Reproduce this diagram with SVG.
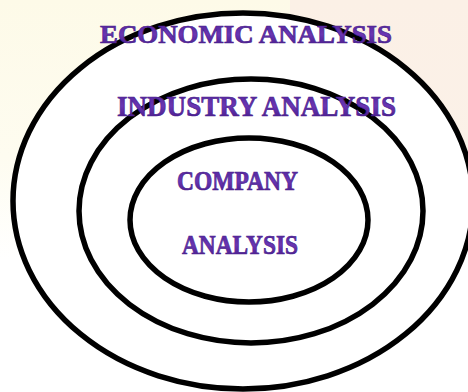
<svg xmlns="http://www.w3.org/2000/svg" width="468" height="392" viewBox="0 0 468 392">
  <defs>
    <linearGradient id="txt" x1="0" y1="0" x2="0" y2="1">
      <stop offset="0" stop-color="#4e2194"/>
      <stop offset="0.5" stop-color="#6a36b4"/>
      <stop offset="1" stop-color="#3f1680"/>
    </linearGradient>
    <linearGradient id="peach" x1="0" y1="0" x2="0" y2="1">
      <stop offset="0" stop-color="#fbf0e6"/>
      <stop offset="0.7" stop-color="#fbf1e8"/>
      <stop offset="1" stop-color="#ffffff"/>
    </linearGradient>
    <linearGradient id="cream" x1="0" y1="0" x2="0" y2="1">
      <stop offset="0" stop-color="#fdfae8"/>
      <stop offset="0.6" stop-color="#fefcf0"/>
      <stop offset="1" stop-color="#ffffff"/>
    </linearGradient>
    <style>
      .ring { fill: none; stroke: #000; stroke-width: 5.5; }
      .lbl { font-family: "Liberation Serif", "Times New Roman", serif; font-weight: bold; fill: url(#txt); stroke: #4a1f8e; stroke-width: 0.7; }
    </style>
  </defs>
  <rect x="0" y="0" width="468" height="392" fill="#ffffff"/>
  <rect x="0" y="0" width="300" height="260" fill="url(#cream)"/>
  <rect x="290" y="0" width="178" height="230" fill="url(#peach)"/>
  <ellipse cx="243" cy="201" rx="230" ry="188" fill="#ffffff"/>

  <g id="economic">
    <ellipse class="ring" cx="243" cy="201" rx="230" ry="188"/>
  </g>
  <g id="industry">
    <ellipse class="ring" cx="251" cy="211" rx="172" ry="132"/>
  </g>
  <g id="company">
    <ellipse class="ring" cx="249" cy="220" rx="119" ry="82"/>
  </g>

  <g id="labels">
    <text class="lbl" x="100" y="43" font-size="26" textLength="292" lengthAdjust="spacingAndGlyphs">ECONOMIC ANALYSIS</text>
    <text class="lbl" x="117" y="116" font-size="29" textLength="279" lengthAdjust="spacingAndGlyphs">INDUSTRY ANALYSIS</text>
    <text class="lbl" x="177" y="190" font-size="27" textLength="121" lengthAdjust="spacingAndGlyphs">COMPANY</text>
    <text class="lbl" x="182" y="254" font-size="27" textLength="116" lengthAdjust="spacingAndGlyphs">ANALYSIS</text>
  </g>
</svg>
